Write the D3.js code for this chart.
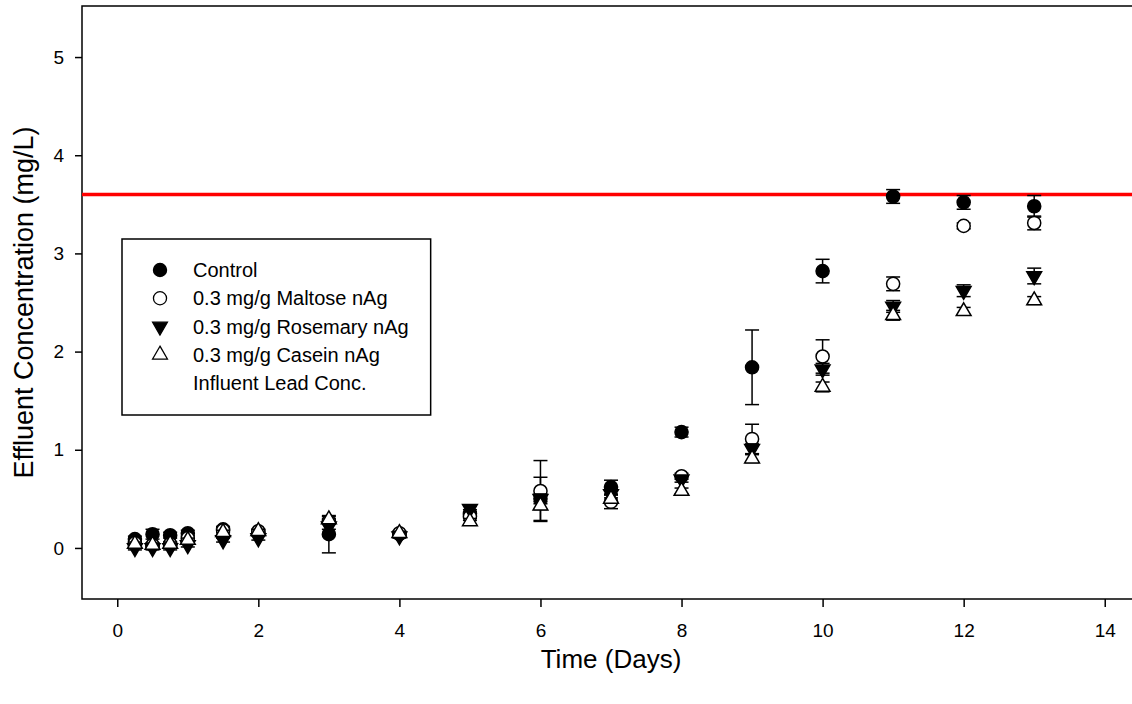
<!DOCTYPE html>
<html>
<head>
<meta charset="utf-8">
<script src="https://cdn.jsdelivr.net/npm/d3@7"></script>
<style>
  body { margin: 0; background: #fff; }
  text { font-family: "Liberation Sans", Arial, sans-serif; fill: #000; }
</style>
</head>
<body>
<svg id="canvas" width="1132" height="704"></svg>
<script>
// sampling times (days)
let days = [0.25, 0.5, 0.75, 1, 1.5, 2, 3, 4, 5, 6, 7, 8, 9, 10, 11, 12, 13]

// effluent concentration (mg/L) and error
let control     = [0.09, 0.14, 0.13, 0.15, 0.19, 0.16, 0.14, 0.14, 0.35, 0.50, 0.62, 1.18, 1.84, 2.82, 3.58, 3.52, 3.48]
let controlErr  = [0.03, 0.05, 0.03, 0.03, 0.03, 0.02, 0.19, 0.02, 0.04, 0.22, 0.07, 0.05, 0.38, 0.12, 0.07, 0.07, 0.11]
let maltose     = [0.05, 0.03, 0.04, 0.10, 0.18, 0.17, 0.27, 0.15, 0.32, 0.58, 0.47, 0.73, 1.11, 1.95, 2.69, 3.28, 3.31]
let maltoseErr  = [0.02, 0.02, 0.02, 0.02, 0.02, 0.02, 0.03, 0.02, 0.04, 0.31, 0.07, 0.03, 0.15, 0.17, 0.07, 0.03, 0.07]
let rosemary    = [0.00, 0.00, 0.00, 0.03, 0.08, 0.10, 0.22, 0.12, 0.40, 0.50, 0.55, 0.70, 1.01, 1.82, 2.46, 2.62, 2.77]
let rosemaryErr = [0.02, 0.02, 0.02, 0.02, 0.02, 0.02, 0.03, 0.02, 0.03, 0.05, 0.04, 0.03, 0.05, 0.06, 0.06, 0.06, 0.08]
let casein      = [0.04, 0.03, 0.04, 0.08, 0.16, 0.17, 0.29, 0.15, 0.27, 0.43, 0.50, 0.58, 0.91, 1.64, 2.37, 2.41, 2.52]
let caseinErr   = [0.02, 0.02, 0.02, 0.02, 0.02, 0.02, 0.03, 0.02, 0.03, 0.04, 0.04, 0.03, 0.04, 0.05, 0.05, 0.04, 0.04]

let influent = 3.6

let xTicks = [0, 2, 4, 6, 8, 10, 12, 14]
let yTicks = [0, 1, 2, 3, 4, 5]

let legendLabels = ['Control', '0.3 mg/g Maltose nAg', '0.3 mg/g Rosemary nAg', '0.3 mg/g Casein nAg', 'Influent Lead Conc.']

let series = [
  { name: legendLabels[0], vals: control, err: controlErr, shape: 'circle', fill: '#000' },
  { name: legendLabels[1], vals: maltose, err: maltoseErr, shape: 'circle', fill: '#fff' },
  { name: legendLabels[2], vals: rosemary, err: rosemaryErr, shape: 'down', fill: '#000' },
  { name: legendLabels[3], vals: casein, err: caseinErr, shape: 'up', fill: '#fff' }
]

let canvas = d3.select('#canvas')

let plotL = 82, plotR = 1140, plotT = 6, plotB = 599

let x = d3.scaleLinear().domain([-0.5, 14.5]).range([plotL, plotR])
let y = d3.scaleLinear().domain([-0.52, 5.52]).range([plotB, plotT])

// symbol path helper
let symbolPath = (shape) => {
  if (shape === 'circle') return d3.symbol().type(d3.symbolCircle).size(135)()
  return d3.symbol().type(d3.symbolTriangle).size(95)()
}

// frame
canvas.append('rect')
  .attr('x', plotL).attr('y', plotT)
  .attr('width', plotR - plotL).attr('height', plotB - plotT)
  .attr('fill', 'none').attr('stroke', '#000').attr('stroke-width', 1.5)

// axes
let xAxis = d3.axisBottom(x).tickValues(xTicks).tickSize(8).tickSizeOuter(0).tickFormat(d3.format('d'))
let gx = canvas.append('g').attr('transform', 'translate(0,' + plotB + ')').call(xAxis)
gx.select('.domain').remove()
gx.selectAll('text').attr('font-size', 19).attr('y', 38).attr('dy', null).style('font-family', '"Liberation Sans", Arial, sans-serif')
gx.selectAll('line').attr('stroke-width', 1.5)

let yAxis = d3.axisLeft(y).tickValues(yTicks).tickSize(7).tickSizeOuter(0).tickFormat(d3.format('d'))
let gy = canvas.append('g').attr('transform', 'translate(' + plotL + ',0)').call(yAxis)
gy.select('.domain').remove()
gy.selectAll('text').attr('font-size', 19).attr('x', -18).style('font-family', '"Liberation Sans", Arial, sans-serif')
gy.selectAll('line').attr('stroke-width', 1.5)

// axis titles
canvas.append('text')
  .attr('x', (plotL + plotR) / 2).attr('y', 668)
  .attr('text-anchor', 'middle').attr('font-size', 26)
  .text('Time (Days)')

canvas.append('text')
  .attr('transform', 'translate(33,' + (plotT + plotB) / 2 + ') rotate(-90)')
  .attr('text-anchor', 'middle').attr('font-size', 27)
  .text('Effluent Concentration (mg/L)')

// influent line
canvas.append('line')
  .attr('x1', plotL).attr('x2', plotR)
  .attr('y1', y(influent)).attr('y2', y(influent))
  .attr('stroke', '#ff0000').attr('stroke-width', 3.5)

// series with error bars
let capW = 7
series.forEach((s) => {
  let g = canvas.append('g')
  let pts = days.map((d, i) => ({ d: d, v: s.vals[i], e: s.err[i] }))

  let eb = g.selectAll('.eb').data(pts).enter().append('g')
  eb.append('line')
    .attr('x1', (p) => x(p.d)).attr('x2', (p) => x(p.d))
    .attr('y1', (p) => y(p.v - p.e)).attr('y2', (p) => y(p.v + p.e))
    .attr('stroke', '#000').attr('stroke-width', 1.5)
  eb.append('line')
    .attr('x1', (p) => x(p.d) - capW).attr('x2', (p) => x(p.d) + capW)
    .attr('y1', (p) => y(p.v + p.e)).attr('y2', (p) => y(p.v + p.e))
    .attr('stroke', '#000').attr('stroke-width', 1.5)
  eb.append('line')
    .attr('x1', (p) => x(p.d) - capW).attr('x2', (p) => x(p.d) + capW)
    .attr('y1', (p) => y(p.v - p.e)).attr('y2', (p) => y(p.v - p.e))
    .attr('stroke', '#000').attr('stroke-width', 1.5)

  g.selectAll('.pt').data(pts).enter().append('path')
    .attr('d', symbolPath(s.shape))
    .attr('transform', (p) => 'translate(' + x(p.d) + ',' + y(p.v) + ')' + (s.shape === 'down' ? ' rotate(180)' : ''))
    .attr('fill', s.fill).attr('stroke', '#000').attr('stroke-width', 1.5)
})

// legend
let lg = canvas.append('g')
let box = lg.append('rect')
  .attr('x', 122).attr('y', 239).attr('height', 176)
  .attr('fill', '#fff').attr('stroke', '#000').attr('stroke-width', 1.5)

let rowY = d3.scaleLinear().domain([0, 4]).range([270, 383])
let maxEnd = 0
legendLabels.forEach((lab, i) => {
  if (i < series.length) {
    let s = series[i]
    lg.append('path')
      .attr('d', symbolPath(s.shape))
      .attr('transform', 'translate(160,' + rowY(i) + ')' + (s.shape === 'down' ? ' rotate(180)' : ''))
      .attr('fill', s.fill).attr('stroke', '#000').attr('stroke-width', 1.3)
  }
  let t = lg.append('text')
    .attr('x', 193).attr('y', rowY(i)).attr('dy', '0.35em')
    .attr('font-size', 20)
    .text(lab)
  maxEnd = Math.max(maxEnd, 193 + t.node().getComputedTextLength())
})
box.attr('width', maxEnd + 22 - 122)
</script>
</body>
</html>
